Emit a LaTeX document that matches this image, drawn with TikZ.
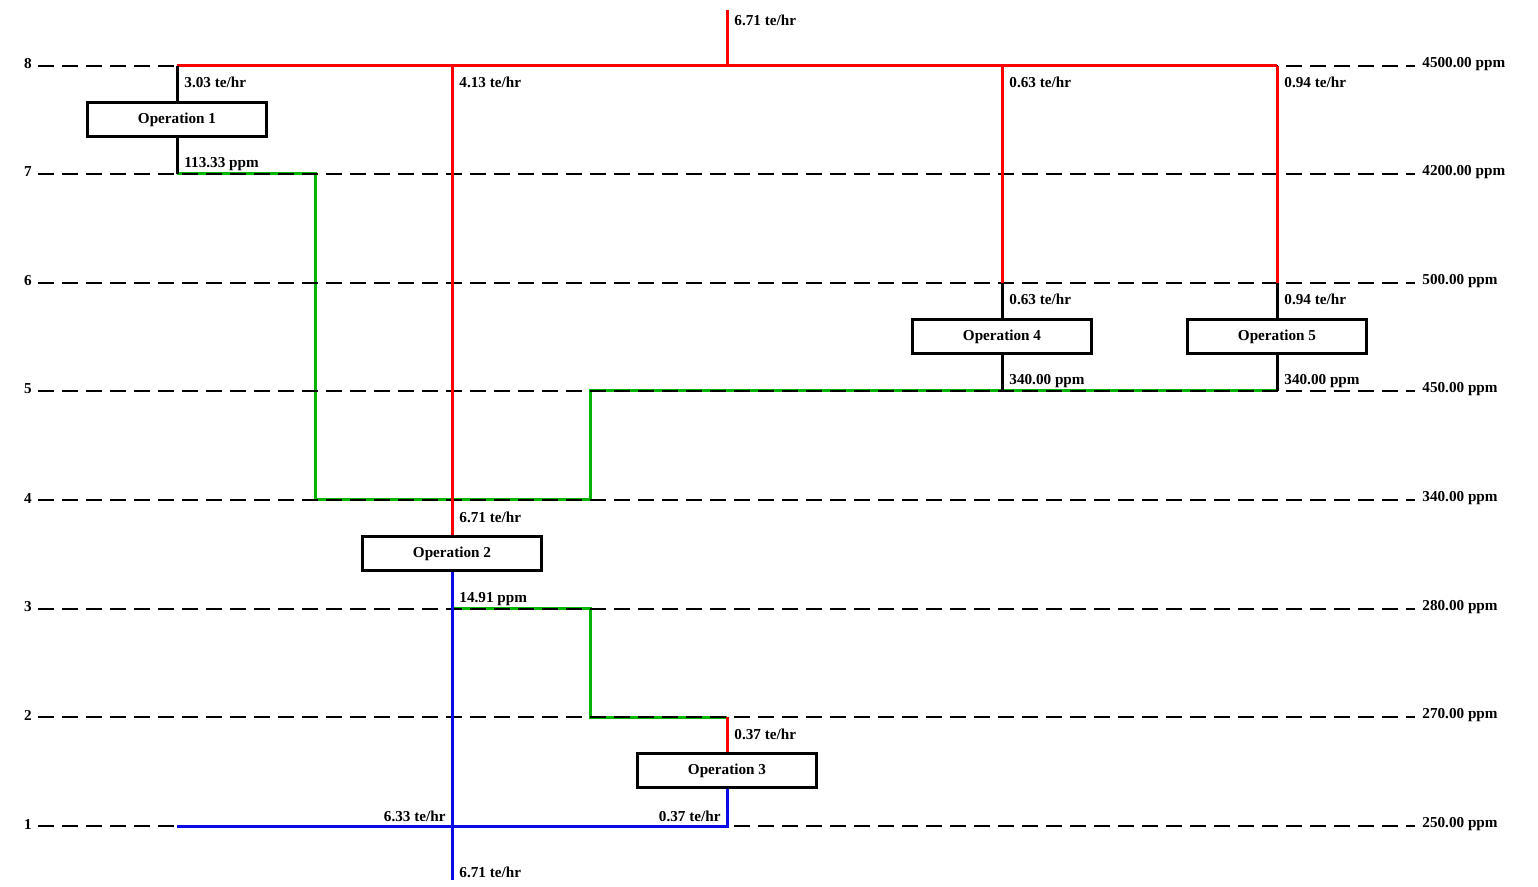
\documentclass[tikz,border=0pt]{standalone}
\usepackage{fontspec}
\setmainfont{Liberation Serif}
\usetikzlibrary{positioning}
\definecolor{reusegreen}{RGB}{0,180,0}
\definecolor{wasteblue}{RGB}{10,10,230}
\tikzset{
  opbox/.style={draw,line width=1.5pt,minimum width=89.5pt,minimum height=16.8pt,inner sep=0pt,font=\bfseries\fontsize{7.6}{9}\selectfont},
  lbl/.style={font=\bfseries\fontsize{7.6}{9}\selectfont,inner sep=0pt},
  levelline/.style={dash pattern=on 8pt off 4pt,line width=0.55pt},
  fresh/.style={red,line width=1.5pt},
  reuse/.style={reusegreen,line width=1.5pt},
  waste/.style={wasteblue,line width=1.5pt},
  link/.style={black,line width=1.5pt},
}

\begin{document}
\begin{tikzpicture}[x=0.5pt,y=-0.5pt]
\useasboundingbox (0,0) rectangle (1538,887);
% operations
\node[opbox] (op1) at (177,119.5) {Operation 1};
\node[opbox] (op2) at (452,553.5) {Operation 2};
\node[opbox] (op3) at (727,770.5) {Operation 3};
\node[opbox] (op4) at (1002,336.5) {Operation 4};
\node[opbox] (op5) at (1277,336.5) {Operation 5};
% junction points
\coordinate (src) at (727,10);
\coordinate (srcj) at (727,66);
\coordinate (f1) at (177,66);
\coordinate (f2) at (452,66);
\coordinate (f4) at (1002,66);
\coordinate (f5) at (1277,66);
\coordinate (k4) at (1002,283);
\coordinate (k5) at (1277,283);
\coordinate (o1) at (177,174);
\coordinate (m4a) at (315,500);
\coordinate (m4b) at (590,500);
\coordinate (o4) at (1002,391);
\coordinate (o5) at (1277,391);
\coordinate (o2) at (452,609);
\coordinate (m2) at (590,717);
\coordinate (i3) at (727,717);
\coordinate (w1) at (177,826);
\coordinate (ww) at (452,880);
% reuse streams (green)
\draw[reuse] (o1) -| (m4a) -- (m4b) |- (o5);
\draw[reuse] (o2) -| (m2) -- (i3);
% concentration levels
\foreach \lv/\yy/\cc in {8/66/4500.00,7/174/4200.00,6/283/500.00,5/391/450.00,4/500/340.00,3/609/280.00,2/717/270.00,1/826/250.00}{
  \node[lbl] (lev\lv) at (28,\yy-2) {\lv};
  \node[lbl,anchor=west] (ppm\lv) at (1422,\yy-2) {\cc\ ppm};
  \draw[levelline] (38,\yy) -- (1415,\yy);
}
% fresh water (red)
\draw[fresh] (f1) -- (f5);
\draw[fresh] (src) -- (srcj);
\draw[fresh] (f2) -- (op2.north);
\draw[fresh] (f4) -- (k4);
\draw[fresh] (f5) -- (k5);
\draw[fresh] (i3) -- (op3.north);
% operation in/out
\draw[link] (f1) -- (op1.north);
\draw[link] (op1.south) -- (o1);
\draw[link] (k4) -- (op4.north);
\draw[link] (k5) -- (op5.north);
\draw[link] (op4.south) -- (o4);
\draw[link] (op5.south) -- (o5);
% wastewater (blue)
\draw[waste] (op2.south) -- (ww);
\draw[waste] (op3.south) |- (w1);
% flow labels
\node[lbl,anchor=west] (lsrc) at (734,20) {6.71 te/hr};
\node[lbl,anchor=west] (lf1) at (184,82) {3.03 te/hr};
\node[lbl,anchor=west] (lf2) at (459,82) {4.13 te/hr};
\node[lbl,anchor=west] (lf4) at (1009,82) {0.63 te/hr};
\node[lbl,anchor=west] (lf5) at (1284,82) {0.94 te/hr};
\node[lbl,anchor=west] (lo1) at (184,164) {113.33 ppm};
\node[lbl,anchor=west] (li4) at (1009,299) {0.63 te/hr};
\node[lbl,anchor=west] (li5) at (1284,299) {0.94 te/hr};
\node[lbl,anchor=west] (lo4) at (1009,381) {340.00 ppm};
\node[lbl,anchor=west] (lo5) at (1284,381) {340.00 ppm};
\node[lbl,anchor=west] (li2) at (459,517) {6.71 te/hr};
\node[lbl,anchor=west] (lo2) at (459,599) {14.91 ppm};
\node[lbl,anchor=west] (li3) at (734,734) {0.37 te/hr};
\node[lbl,anchor=east] (lw2) at (446,816) {6.33 te/hr};
\node[lbl,anchor=east] (lw3) at (721,816) {0.37 te/hr};
\node[lbl,anchor=west] (lww) at (459,872) {6.71 te/hr};
\end{tikzpicture}
\end{document}
